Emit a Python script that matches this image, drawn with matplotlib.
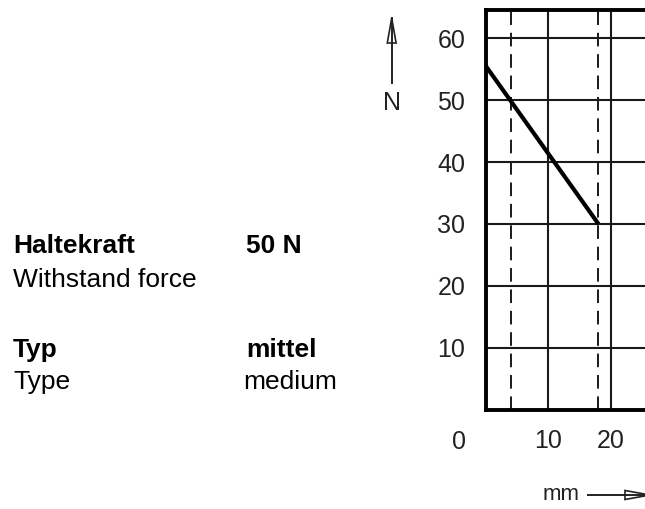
import matplotlib.pyplot as plt
from matplotlib.patches import Polygon

plt.rcParams['font.family'] = ['Liberation Sans', 'DejaVu Sans']

# --- data ---
force_x = [0, 18]          # mm
force_y = [55.5, 30]       # N
y_ticks = [10, 20, 30, 40, 50, 60]
x_ticks = [10, 20]
dashed_x = [4, 18]
x_max, y_max = 25.45, 64.6

W, H = 645, 509
fig = plt.figure(figsize=(W / 100, H / 100), dpi=100)
narrow = ['Liberation Sans Narrow', 'Liberation Sans', 'DejaVu Sans']


def fx(px):
    return px / W


def fy(py):
    return 1 - py / H


ax = fig.add_axes([fx(486), fy(409.5), fx(645 - 486), (409.5 - 10) / H])
ax.set_xlim(0, x_max)
ax.set_ylim(0, y_max)

for y in y_ticks:
    ax.axhline(y, color='#1a1a1a', lw=1.5, zorder=1)
for x in x_ticks:
    ax.axvline(x, color='#1a1a1a', lw=1.5, zorder=1)
for x in dashed_x:
    ax.axvline(x, color='#1a1a1a', lw=1.4, ls=(0, (7, 4)), zorder=1)

ax.plot(force_x, force_y, color='black', lw=3, solid_capstyle='butt', zorder=3)

for s in ['left', 'bottom', 'top']:
    ax.spines[s].set_linewidth(2.8)
ax.spines['right'].set_visible(False)

ax.set_yticks(y_ticks)
ax.set_yticklabels([str(v) for v in y_ticks], family=narrow)
ax.set_xticks(x_ticks)
ax.set_xticklabels([str(v) for v in x_ticks], family=narrow)
ax.tick_params(axis='both', length=0, labelsize=18, labelcolor='#222222')
ax.tick_params(axis='y', pad=15)
ax.tick_params(axis='x', pad=14)

# corner "0"
fig.text(fx(459), fy(442), '0', fontsize=18, family=narrow, color='#222222', ha='center', va='center')

# axis arrows
fig.add_artist(plt.Line2D([fx(391.7), fx(391.7)], [fy(82.7), fy(18)], color='#222222', lw=1.4))
fig.add_artist(Polygon([[fx(391.7), fy(18)], [fx(387.3), fy(43)], [fx(396.1), fy(43)]],
                       closed=True, fill=False, ec='#222222', lw=1.2, transform=fig.transFigure))
fig.text(fx(392), fy(102.5), 'N', fontsize=18, family=narrow, color='#222222', ha='center', va='center')

fig.add_artist(plt.Line2D([fx(588), fx(650)], [fy(495), fy(495)], color='#222222', lw=1.4))
fig.add_artist(Polygon([[fx(650), fy(495)], [fx(625), fy(490.5)], [fx(625), fy(499.5)]],
                       closed=True, fill=False, ec='#222222', lw=1.2, transform=fig.transFigure))
fig.text(fx(561), fy(495), 'mm', fontsize=16, family=narrow, color='#222222', ha='center', va='center')

# left text block
fig.text(fx(13), fy(253), 'Haltekraft', fontsize=19, fontweight='bold', va='baseline')
fig.text(fx(246), fy(253), '50 N', fontsize=19, fontweight='bold', va='baseline')
fig.text(fx(13), fy(287), 'Withstand force', fontsize=19, va='baseline')
fig.text(fx(13), fy(357), 'Typ', fontsize=19, fontweight='bold', va='baseline')
fig.text(fx(246), fy(357), 'mittel', fontsize=19, fontweight='bold', va='baseline')
fig.text(fx(13), fy(389), 'Type', fontsize=19, va='baseline')
fig.text(fx(243), fy(389), 'medium', fontsize=19, va='baseline')

fig.savefig('out.png', dpi=100)
